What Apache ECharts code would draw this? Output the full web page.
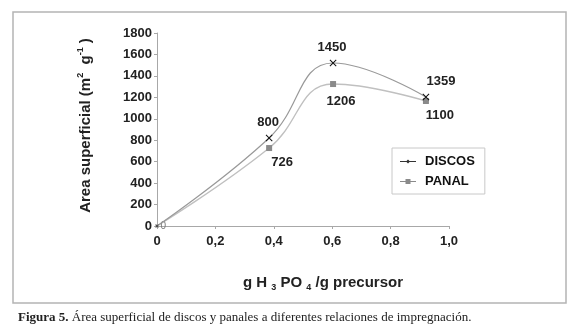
<!DOCTYPE html>
<html><head><meta charset="utf-8">
<script src="https://cdn.jsdelivr.net/npm/echarts@6/dist/echarts.min.js"></script>
<style>html,body{margin:0;padding:0;background:#fff}#c{width:580px;height:329px}</style>
</head><body><div id="c"></div>
<script>
// x values (g H3PO4 / g precursor)
const xValues = [0, 0.384, 0.603, 0.921];
// plotted positions
const discos = [0, 821, 1520, 1203];
const panal = [0, 727, 1324, 1166];
// printed data labels
const discosLabels = ['', '800', '1450', '1359'];
const panalLabels = ['0', '726', '1206', '1100'];
const xTicks = ['0', '0,2', '0,4', '0,6', '0,8', '1,0'];
const seriesNames = ['DISCOS', 'PANAL'];

const crossPath = 'path://M0,1 L1,0 L5,4 L9,0 L10,1 L6,5 L10,9 L9,10 L5,6 L1,10 L0,9 L4,5 Z';
const font = 'Liberation Sans, Arial, sans-serif';

const discosPos = [null, {position:'top', offset:[-1,-1]}, {position:'top', offset:[-1,-1]}, {position:'top', offset:[15,-1]}];
const panalPos = [{position:'right', offset:[-3,0], fontWeight:'normal', color:'#777', fontSize:10}, {position:'bottom', offset:[13,0]}, {position:'bottom', offset:[8,3]}, {position:'bottom', offset:[14,0]}];

function build(vals, labels, pos, originSize) {
  return vals.map((v, i) => {
    const item = {value: [xValues[i], v]};
    if (labels[i]) {
      item.label = Object.assign({show: true, formatter: labels[i]}, pos[i]);
    } else {
      item.label = {show: false};
    }
    if (i === 0) item.symbolSize = originSize;
    return item;
  });
}

const chart = echarts.init(document.getElementById('c'), null, {renderer: 'canvas'});
chart.setOption({
  animation: false,
  backgroundColor: '#fff',
  title: {
    text: '{b|Figura 5.} Área superficial de discos y panales a diferentes relaciones de impregnación.',
    left: 13, top: 306,
    textStyle: {
      fontFamily: 'Liberation Serif, Times New Roman, serif', fontSize: 13, fontWeight: 'normal', color: '#222',
      rich: {b: {fontFamily: 'Liberation Serif, Times New Roman, serif', fontSize: 13, fontWeight: 'bold', color: '#222'}}
    }
  },
  graphic: [{
    type: 'rect', shape: {x: 13, y: 12, width: 553, height: 291},
    style: {fill: 'none', stroke: '#b4b4b4', lineWidth: 1.5}, silent: true
  }],
  legend: {
    left: 392, top: 148, width: 98, orient: 'vertical',
    padding: [7, 10, 6, 8], itemGap: 7, itemWidth: 16, itemHeight: 8,
    borderColor: '#c8c8c8', borderWidth: 1,
    textStyle: {fontFamily: font, fontSize: 13, fontWeight: 'bold', color: '#111', padding: [0, 0, 0, 4]},
    data: [
      {name: seriesNames[0], icon: 'path://M0,4.6 L6.5,4.6 L8,3 L9.5,4.6 L16,4.6 L16,5.4 L9.5,5.4 L8,7 L6.5,5.4 L0,5.4 Z', itemStyle: {color: '#333'}},
      {name: seriesNames[1], icon: 'path://M0,4.6 L5.5,4.6 L5.5,2.5 L10.5,2.5 L10.5,4.6 L16,4.6 L16,5.4 L10.5,5.4 L10.5,7.5 L5.5,7.5 L5.5,5.4 L0,5.4 Z', itemStyle: {color: '#8a8a8a'}}
    ]
  },
  grid: {left: 157, right: 131, top: 33, bottom: 103},
  xAxis: {
    type: 'value', min: 0, max: 1, interval: 0.2,
    name: 'g H {sub|3} PO {sub|4} /g precursor', nameLocation: 'middle', nameGap: 47,
    nameTextStyle: {fontFamily: font, fontSize: 15, fontWeight: 'bold', color: '#222', padding: [0, 0, 0, 40],
      rich: {sub: {fontFamily: font, fontSize: 9, fontWeight: 'bold', color: '#222', padding: [10, 0, 0, 0]}}},
    axisLine: {lineStyle: {color: '#a8a8a8', width: 1}},
    axisTick: {length: 3, lineStyle: {color: '#a8a8a8'}},
    splitLine: {show: false},
    axisLabel: {margin: 9, fontFamily: font, fontSize: 13, fontWeight: 'bold', color: '#222',
      formatter: (v) => xTicks[Math.round(v / 0.2)]}
  },
  yAxis: {
    type: 'value', min: 0, max: 1800, interval: 200,
    name: 'Area superficial (m{sup|2}  g{sup|-1} )', nameLocation: 'middle', nameGap: 62, nameRotate: 90,
    nameTextStyle: {fontFamily: font, fontSize: 15, fontWeight: 'bold', color: '#222', padding: [0, 0, 0, 8],
      rich: {sup: {fontFamily: font, fontSize: 9, fontWeight: 'bold', color: '#222', padding: [0, 0, 10, 0]}}},
    axisLine: {show: true, lineStyle: {color: '#a8a8a8', width: 1}},
    axisTick: {show: true, length: 3, lineStyle: {color: '#a8a8a8'}},
    splitLine: {show: false},
    axisLabel: {margin: 5, fontFamily: font, fontSize: 13, fontWeight: 'bold', color: '#222',
      formatter: (v) => String(v)}
  },
  series: [
    {
      name: seriesNames[0], type: 'line', smooth: 0.45,
      data: build(discos, discosLabels, discosPos, 3),
      symbol: crossPath, symbolSize: 7,
      itemStyle: {color: '#111'},
      lineStyle: {color: '#999999', width: 1.2},
      label: {fontFamily: font, fontSize: 13, fontWeight: 'bold', color: '#222'},
      z: 3
    },
    {
      name: seriesNames[1], type: 'line', smooth: 0.45,
      data: build(panal, panalLabels, panalPos, 3),
      symbol: 'rect', symbolSize: 6,
      itemStyle: {color: '#8a8a8a'},
      lineStyle: {color: '#c0c0c0', width: 1.4},
      label: {fontFamily: font, fontSize: 13, fontWeight: 'bold', color: '#222'},
      z: 2
    }
  ]
});
</script></body></html>
